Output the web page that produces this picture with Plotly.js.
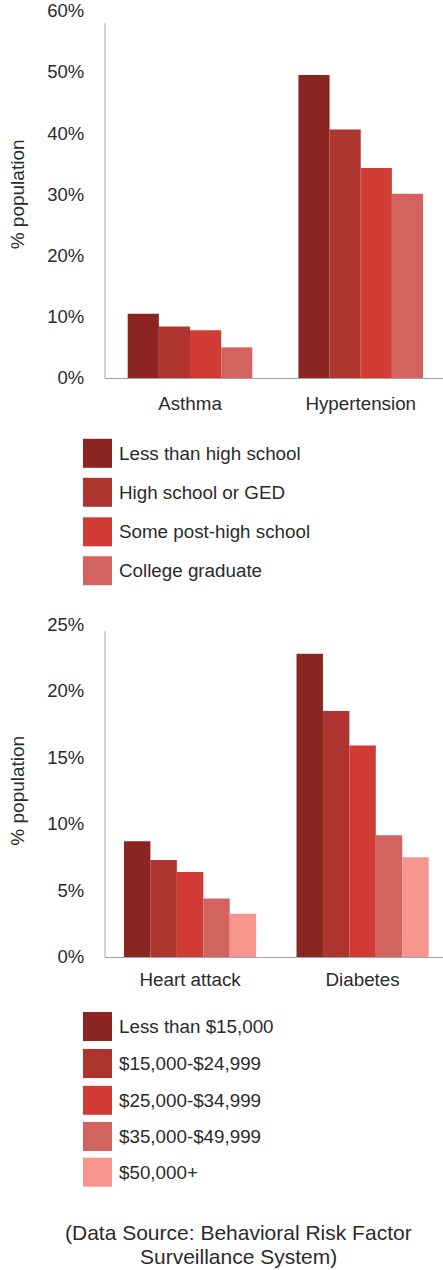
<!DOCTYPE html>
<html>
<head>
<meta charset="utf-8">
<script src="https://cdn.plot.ly/plotly-3.0.1.min.js"></script>
<style>html,body{margin:0;padding:0;background:#fff;}#chart{width:443px;height:1270px;}</style>
</head>
<body>
<div id="chart"></div>
<script>
// ---- Data ----
const eduCategories = ['Asthma', 'Hypertension'];
const eduGroups = ['Less than high school', 'High school or GED', 'Some post-high school', 'College graduate'];
const lessThanHighSchool = [10.5, 49.5];
const highSchoolOrGED = [8.4, 40.6];
const somePostHighSchool = [7.8, 34.3];
const collegeGraduate = [5.0, 30.1];

const incomeCategories = ['Heart attack', 'Diabetes'];
const incomeGroups = ['Less than $15,000', '$15,000-$24,999', '$25,000-$34,999', '$35,000-$49,999', '$50,000+'];
const incomeUnder15k = [8.7, 22.8];
const income15to25k = [7.3, 18.5];
const income25to35k = [6.4, 15.9];
const income35to50k = [4.4, 9.15];
const income50kPlus = [3.25, 7.5];

const eduTicks = [0, 10, 20, 30, 40, 50, 60];
const incomeTicks = [0, 5, 10, 15, 20, 25];
const eduTickText = ['0%', '10%', '20%', '30%', '40%', '50%', '60%'];
const incomeTickText = ['0%', '5%', '10%', '15%', '20%', '25%'];
const axisTitle = '% population';
const sourceLines = ['(Data Source: Behavioral Risk Factor', 'Surveillance System)'];

// ---- Styles ----
const colors = ['#8B2521', '#AE3430', '#D03B33', '#D2635F', '#F5958E'];
const W = 443, H = 1270;
const FONT = '"Liberation Sans", Arial, Helvetica, sans-serif';
const TXT = '#2b2b2b';
const AXC = '#a3a3a3';
const px = x => x / W;
const py = y => 1 - y / H;

const eduSeries = [lessThanHighSchool, highSchoolOrGED, somePostHighSchool, collegeGraduate];
const incomeSeries = [incomeUnder15k, income15to25k, income25to35k, income35to50k, income50kPlus];

function groupTraces(series, cats, names, xa, ya, groupWidth) {
  const w = groupWidth / series.length;
  return series.map((vals, i) => ({
    type: 'bar', x: cats, y: vals, name: names[i],
    width: w, offset: -groupWidth / 2 + i * w,
    marker: {color: colors[i], line: {width: 0}},
    xaxis: xa, yaxis: ya, showlegend: false, hoverinfo: 'x+y+name'
  }));
}
const traces = groupTraces(eduSeries, eduCategories, eduGroups, 'x', 'y', 0.73)
  .concat(groupTraces(incomeSeries, incomeCategories, incomeGroups, 'x2', 'y2', 0.766));

const shapes = [];
const annotations = [];

// y-axis lines (shorter than the plot area as in the reference)
shapes.push({type: 'line', xref: 'x domain', yref: 'paper', x0: 0, x1: 0, y0: py(378), y1: py(23), line: {color: AXC, width: 1}});
shapes.push({type: 'line', xref: 'x2 domain', yref: 'paper', x0: 0, x1: 0, y0: py(957), y1: py(631), line: {color: AXC, width: 1}});

// custom legends with large square swatches
function addLegend(names, centers) {
  names.forEach((n, i) => {
    const c = centers[i];
    shapes.push({type: 'rect', xref: 'paper', yref: 'paper', x0: px(83), x1: px(112), y0: py(c + 14.5), y1: py(c - 14.5), fillcolor: colors[i], line: {width: 0}});
    annotations.push({xref: 'paper', yref: 'paper', x: px(117), y: py(c), xanchor: 'left', yanchor: 'middle', showarrow: false, text: n, font: {family: FONT, size: 18.8, color: TXT}});
  });
}
addLegend(eduGroups, [453.3, 492.3, 531.8, 570.7]);
addLegend(incomeGroups, [1026.5, 1063.5, 1100.3, 1136.5, 1172.2]);

[1232.3, 1256.7].forEach((yc, i) => {
  annotations.push({xref: 'paper', yref: 'paper', x: px(238.2), y: py(yc), xanchor: 'center', yanchor: 'middle', showarrow: false, text: sourceLines[i], font: {family: FONT, size: 21, color: TXT}});
});

const yBase = {
  ticks: 'outside', ticklen: 16, tickcolor: 'rgba(0,0,0,0)',
  showgrid: false, zeroline: false, showline: false, fixedrange: true,
  tickfont: {family: FONT, size: 18.5, color: TXT}, automargin: false,
  title: {text: axisTitle, standoff: 17, font: {family: FONT, size: 19, color: TXT}}
};
const xBase = {
  showgrid: false, zeroline: false, showline: true, linecolor: AXC, linewidth: 1,
  ticks: 'outside', tickcolor: 'rgba(0,0,0,0)', automargin: false, fixedrange: true,
  tickfont: {family: FONT, size: 18.8, color: TXT}
};

const layout = {
  width: W, height: H,
  margin: {l: 0, r: 0, t: 0, b: 0},
  paper_bgcolor: '#ffffff', plot_bgcolor: '#ffffff',
  showlegend: false,
  barmode: 'group',
  font: {family: FONT, color: TXT},
  xaxis: Object.assign({}, xBase, {domain: [px(105), 1], range: [-0.498, 1.482], anchor: 'y', ticklen: 8}),
  yaxis: Object.assign({}, yBase, {domain: [py(378), py(10.8)], range: [0, 60], tickvals: eduTicks, ticktext: eduTickText, anchor: 'x'}),
  xaxis2: Object.assign({}, xBase, {domain: [px(105), 1], range: [-0.493, 1.466], anchor: 'y2', ticklen: 5}),
  yaxis2: Object.assign({}, yBase, {domain: [py(957), py(624.5)], range: [0, 25], tickvals: incomeTicks, ticktext: incomeTickText, anchor: 'x2'}),
  shapes: shapes,
  annotations: annotations
};

Plotly.newPlot('chart', traces, layout, {displayModeBar: false, staticPlot: true});
</script>
</body>
</html>
